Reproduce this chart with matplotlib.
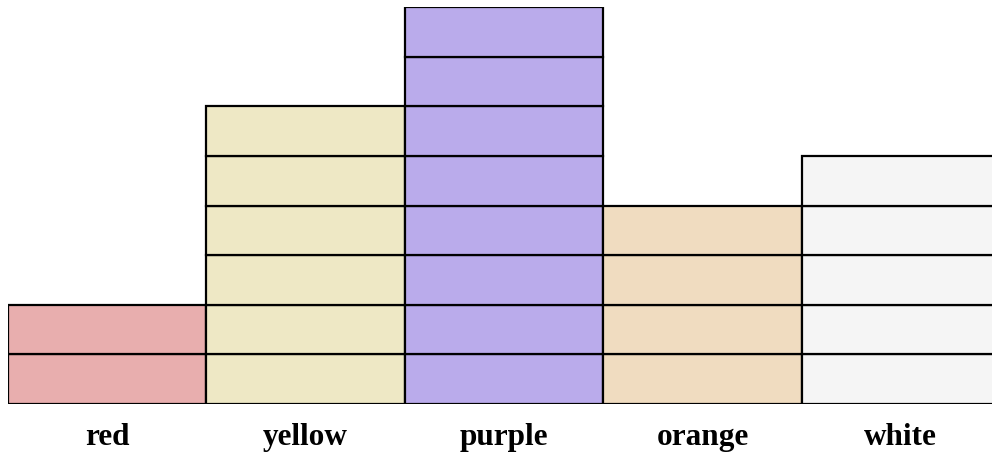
import matplotlib.pyplot as plt

categories = ["red", "yellow", "purple", "orange", "white"]
counts = [2, 6, 8, 4, 5]
colors = ["#e8aeae", "#eee8c5", "#baabeb", "#f0dcc0", "#f5f5f5"]

fig = plt.figure(figsize=(9.92, 4.56), dpi=100)
# axes runs a little off the right edge, like the reference
ax = fig.add_axes([8 / 992, 51 / 456, 992 / 992, 397 / 456])

for i, (n, c) in enumerate(zip(counts, colors)):
    for k in range(n):
        ax.bar(i, 1, bottom=k, width=1.0, color=c, edgecolor="black", linewidth=1.6)

ax.set_xlim(-0.5, 4.5)
ax.set_ylim(0, max(counts))
ax.set_xticks(range(len(categories)))
ax.set_xticklabels(categories, fontfamily="Liberation Serif", fontweight="bold", fontsize=22.5)
ax.tick_params(axis="x", length=0, pad=13)
ax.set_yticks([])
for s in ax.spines.values():
    s.set_visible(False)

fig.savefig("out.png", dpi=100)
